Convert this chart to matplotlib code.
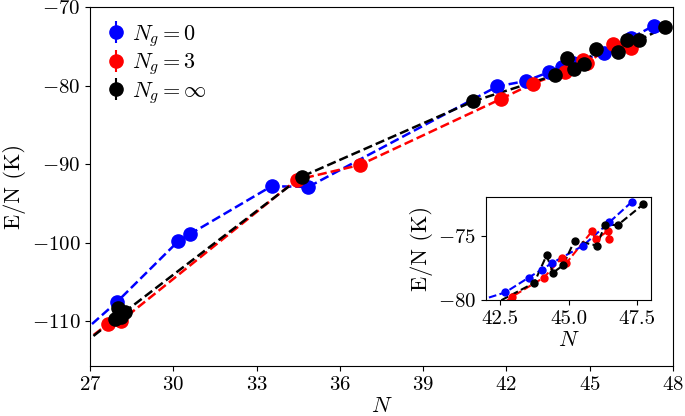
import numpy as np
import matplotlib
matplotlib.use('Agg')
import matplotlib.pyplot as plt

plt.rcParams['font.family'] = 'serif'
plt.rcParams['font.serif'] = ['cmr10']
plt.rcParams['mathtext.fontset'] = 'cm'
plt.rcParams['axes.formatter.use_mathtext'] = True
plt.rcParams['font.size'] = 15

# N_g = 0
n_0 = [26.0, 27.98, 30.18, 30.6, 33.54, 34.86, 41.67, 42.70, 43.55, 44.02,
       44.40, 45.52, 46.49, 47.31]
e_0 = [-113.7, -107.5, -99.8, -98.9, -92.8, -92.9, -80.1, -79.41, -78.26, -77.64,
       -77.13, -75.79, -73.95, -72.36]
# N_g = 3
n_3 = [26.0, 27.66, 28.1, 34.44, 36.72, 41.8, 42.95, 44.10, 44.77, 44.92,
       45.85, 46.01, 46.45, 46.49]
e_3 = [-114.8, -110.3, -110.0, -92.0, -90.1, -81.7, -79.74, -78.26, -76.72, -77.13,
       -74.67, -75.26, -74.62, -75.26]
# N_g = inf
n_inf = [26.0, 27.9, 28.0, 28.1, 28.25, 34.62, 40.8, 43.75, 44.20, 44.44,
         44.80, 45.22, 46.03, 46.33, 46.79, 47.72]
e_inf = [-115.0, -109.7, -108.3, -109.4, -108.8, -91.6, -82.0, -78.67, -76.54, -77.87,
         -77.31, -75.38, -75.77, -74.15, -74.18, -72.56]

series = [(n_0, e_0, 'blue', r'$N_g = 0$'),
          (n_3, e_3, 'red', r'$N_g = 3$'),
          (n_inf, e_inf, 'black', r'$N_g = \infty$')]

fig = plt.figure(figsize=(6.85, 4.16), dpi=100)
ax = fig.add_axes([0.1314, 0.120, 0.851, 0.863])

for n, e, c, lab in series:
    ax.plot(n, e, '--', color=c, lw=1.8)
    ax.errorbar(n, e, yerr=0.3, fmt='o', color=c, ms=9.5, label=lab)

ax.set_xlim(27, 48)
ax.set_ylim(-115.7, -70)
ax.set_xticks(np.arange(27, 49, 3))
ax.set_yticks([-110, -100, -90, -80, -70])
ax.set_xlabel(r'$N$', fontsize=16, labelpad=2)
ax.set_ylabel('E/N (K)', fontsize=16)
ax.legend(loc='upper left', frameon=False, fontsize=16, handlelength=0.9,
          handletextpad=0.3, labelspacing=0.12, borderaxespad=0.3)

axin = fig.add_axes([0.7095, 0.2788, 0.2409, 0.2476])
for n, e, c, lab in series:
    axin.plot(n, e, '--', color=c, lw=1.5)
    axin.errorbar(n, e, yerr=0.1, fmt='o', color=c, ms=5)
axin.set_xlim(42, 48)
axin.set_ylim(-80, -72)
axin.set_xticks([42.5, 45.0, 47.5])
axin.set_xticklabels(['42.5', '45.0', '47.5'])
axin.set_yticks([-80, -75])
axin.set_xlabel(r'$N$', fontsize=16, labelpad=2)
axin.set_ylabel('E/N (K)', fontsize=16)

plt.savefig('out.png', dpi=100)
